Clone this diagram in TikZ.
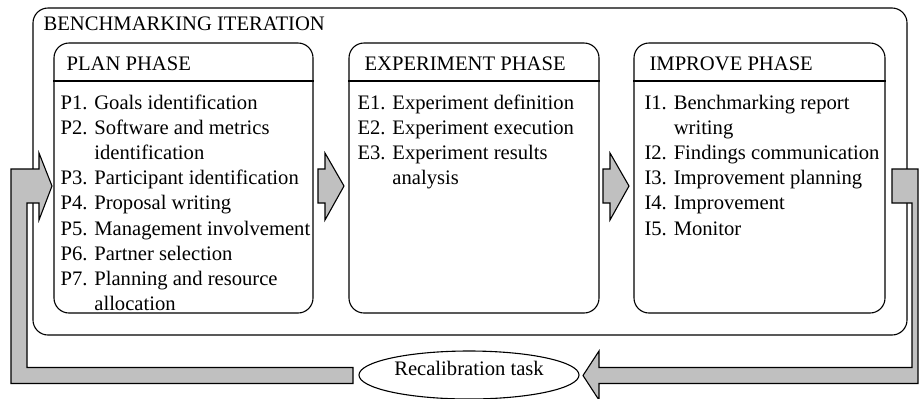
\documentclass[tikz,border=0pt]{standalone}
\usepackage{fontspec}
\setmainfont{Liberation Serif}
\usetikzlibrary{shapes.geometric,calc}
\definecolor{arrowgray}{RGB}{192,192,192}
\begin{document}
\begin{tikzpicture}[x=1bp,y=-1bp, line width=1.1bp,
  every node/.style={font=\fontsize{20.7}{25.2}\selectfont},
  box/.style={draw, rectangle, rounded corners=15bp, inner sep=0},
  txt/.style={inner sep=0, anchor=base west},
  list/.style={inner sep=0, anchor=north west, align=left},
  blockarrow/.style={draw, fill=arrowgray, line join=miter}]
\useasboundingbox (0,0) rectangle (919,398);

% outer iteration box
\node[box, minimum width=874bp, minimum height=327bp] (iter) at (470,171.5) {};
\node[txt] (itertitle) at (43,30) {BENCHMARKING ITERATION};

% phase boxes
\node[box, minimum width=259bp, minimum height=270bp] (plan) at (183.5,178) {};
\node[box, minimum width=250bp, minimum height=270bp] (exp) at (474,178) {};
\node[box, minimum width=251bp, minimum height=270bp] (imp) at (759.5,178) {};
\foreach \b in {plan,exp,imp}
  \draw (\b.west |- 0,81) -- (\b.east |- 0,81);

\node[txt] (planhead) at (66,70) {PLAN PHASE};
\node[txt] (exphead) at (364,70) {EXPERIMENT PHASE};
\node[txt] (imphead) at (649,70) {IMPROVE PHASE};

\node[list] (planlist) at (60,91.4) {\strut P1. Goals identification\\
P2. Software and metrics\\
\phantom{P2. }identification\\
P3. Participant identification\\
P4. Proposal writing\\
P5. Management involvement\\
P6. Partner selection\\
P7. Planning and resource\\
\phantom{P7. }allocation};

\node[list] (explist) at (357,91.4) {\strut E1. Experiment definition\\
E2. Experiment execution\\
E3. Experiment results\\
\phantom{E3. }analysis};

\node[list] (implist) at (644,91.4) {\strut I1. Benchmarking report\\
\phantom{I1. }writing\\
I2. Findings communication\\
I3. Improvement planning\\
I4. Improvement\\
I5. Monitor};

% block arrows between phases
\draw[blockarrow] (318,169) -- (325,169) -- (325,153) -- (344,186) -- (325,220) -- (325,203) -- (318,203) -- cycle;
\draw[blockarrow] (603,169) -- (610,169) -- (610,153) -- (629,186) -- (610,220) -- (610,203) -- (603,203) -- cycle;

% recalibration
\node[draw, ellipse, minimum width=220bp, minimum height=48bp, inner sep=0] (recal) at (469,375) {};
\node[inner sep=0, anchor=base] (recaltext) at (469,375) {Recalibration task};

% feedback arrows
\draw[blockarrow] (892,169) -- (918,169) -- (918,383.5) -- (599,383.5) -- (599,400) -- (583,375.5) -- (599,351) -- (599,367.5) -- (912,367.5) -- (912,203) -- (892,203) -- cycle;
\draw[blockarrow] (11,383.5) -- (11,169) -- (39,169) -- (39,153) -- (52,186) -- (39,220) -- (39,203) -- (27,203) -- (27,367.5) -- (353,367.5) -- (353,383.5) -- cycle;
\end{tikzpicture}
\end{document}
